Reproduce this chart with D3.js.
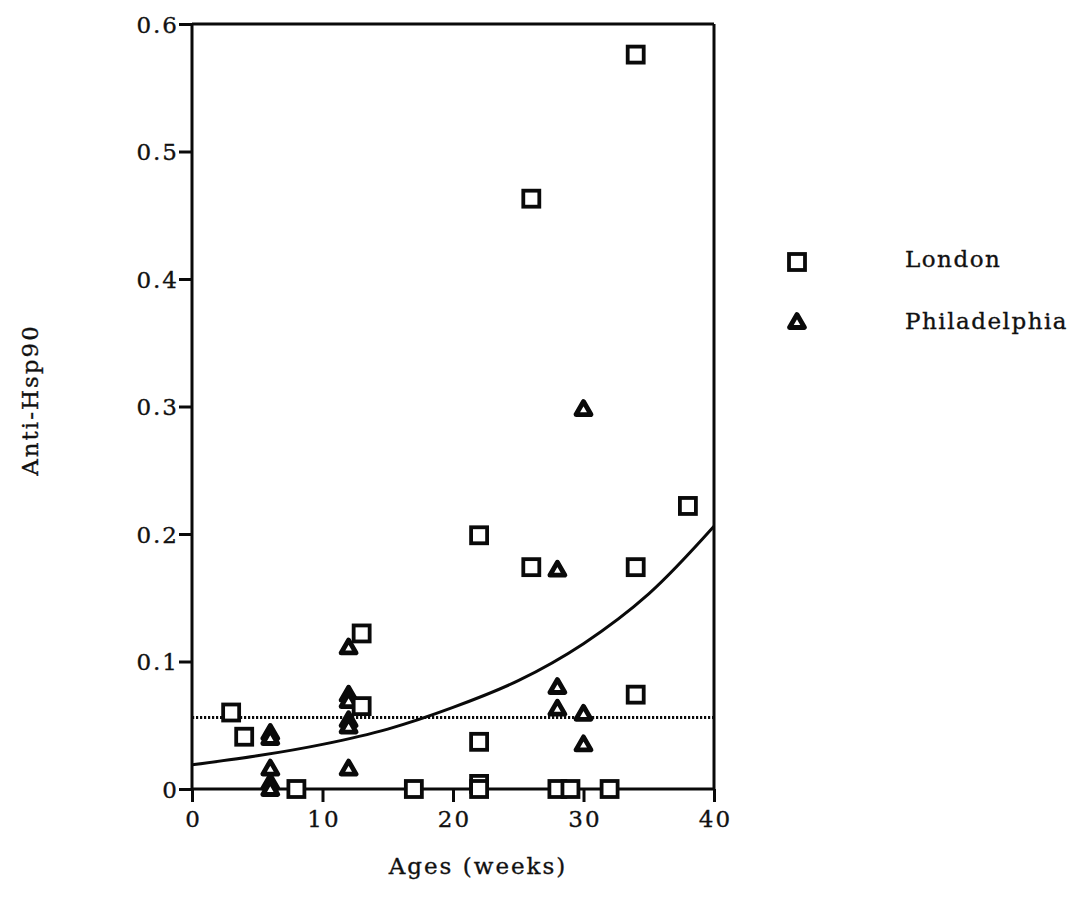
<!DOCTYPE html>
<html>
<head>
<meta charset="utf-8">
<script src="https://cdn.jsdelivr.net/npm/d3@7/dist/d3.min.js"></script>
<style>
  body { margin: 0; background: #fff; }
  svg { display: block; }
  text { font-family: "DejaVu Serif", "Liberation Serif", serif; fill: #111; stroke: #111; stroke-width: 0.35px; }
</style>
</head>
<body>
<svg id="chart" width="1075" height="911"></svg>
<script>
// Anti-Hsp90 titres by age, two colonies
const londonAge = [3, 4, 8, 13, 13, 17, 22, 22, 22, 22, 26, 26, 28, 29, 32, 34, 34, 34, 38];
const londonVal = [0.060, 0.041, 0, 0.122, 0.065, 0, 0.199, 0.037, 0.004, 0, 0.463, 0.174, 0, 0, 0, 0.576, 0.174, 0.074, 0.222];

const phillyAge = [6, 6, 6, 6, 6, 12, 12, 12, 12, 12, 12, 28, 28, 28, 30, 30, 30];
const phillyVal = [0.044, 0.040, 0.016, 0.005, 0, 0.111, 0.074, 0.069, 0.054, 0.049, 0.016, 0.172, 0.080, 0.063, 0.298, 0.059, 0.035];

// fitted trend curve and cut-off level
const fitAge = [0, 5, 10, 15, 20, 25, 30, 35, 40];
const fitVal = [0.019, 0.026, 0.035, 0.047, 0.064, 0.085, 0.114, 0.153, 0.206];
const cutoff = 0.056;

const xTicks = [0, 10, 20, 30, 40];
const yTicks = [0, 0.1, 0.2, 0.3, 0.4, 0.5, 0.6];
const yTickLabels = ["0", "0.1", "0.2", "0.3", "0.4", "0.5", "0.6"];
const seriesNames = ["London", "Philadelphia"];

const svg = d3.select("#chart");
const x = d3.scaleLinear().domain([0, 40]).range([192, 714]);
const y = d3.scaleLinear().domain([0, 0.6]).range([789, 24]);

const ink = "#0a0a0a";

// frame: top and right edges
svg.append("line").attr("x1", x(0)).attr("x2", x(40)).attr("y1", y(0.6)).attr("y2", y(0.6))
  .attr("stroke", ink).attr("stroke-width", 3);
svg.append("line").attr("x1", x(40)).attr("x2", x(40)).attr("y1", y(0.6)).attr("y2", y(0))
  .attr("stroke", ink).attr("stroke-width", 3);

// axes
const xAxis = d3.axisBottom(x).tickValues(xTicks).tickSize(13).tickPadding(9).tickFormat(d3.format("d"));
const yAxis = d3.axisLeft(y).tickValues(yTicks).tickSize(13).tickPadding(0)
  .tickFormat((d, i) => yTickLabels[i]);

const gx = svg.append("g").attr("transform", `translate(0,${y(0)})`).call(xAxis);
const gy = svg.append("g").attr("transform", `translate(${x(0)},0)`).call(yAxis);
[gx, gy].forEach(g => {
  g.select(".domain").attr("stroke", ink).attr("stroke-width", 3);
  g.selectAll(".tick line").attr("stroke", ink).attr("stroke-width", 3);
  g.selectAll(".tick text").style("font-family", '"DejaVu Serif", serif')
    .style("font-size", "23px").style("letter-spacing", "2px").attr("fill", ink);
});
gx.selectAll(".tick text").attr("dx", 1);
gy.selectAll(".tick text").attr("dy", "0.36em");
gx.select(".domain").attr("d", `M${x(0)},0H${x(40)}`);
gy.select(".domain").attr("d", `M0,${y(0.6)}V${y(0)}`);

// cut-off line
svg.append("line").attr("x1", x(0)).attr("x2", x(40)).attr("y1", y(cutoff)).attr("y2", y(cutoff))
  .attr("stroke", ink).attr("stroke-width", 3).attr("stroke-dasharray", "2.2,1.8");

// trend curve
const fit = fitAge.map((a, i) => [a, fitVal[i]]);
svg.append("path").datum(fit)
  .attr("d", d3.line().x(d => x(d[0])).y(d => y(d[1])).curve(d3.curveCatmullRom))
  .attr("fill", "none").attr("stroke", ink).attr("stroke-width", 3);

// marker shapes
const triPath = "M0,-7.5L7.5,5.5L-7.5,5.5Z";
function square(g, cx, cy) {
  g.append("rect").attr("x", cx - 8).attr("y", cy - 8).attr("width", 16).attr("height", 16)
    .attr("fill", "#fff").attr("stroke", ink).attr("stroke-width", 3.8);
}
function triangle(g, cx, cy) {
  g.append("path").attr("d", triPath).attr("transform", `translate(${cx},${cy})`)
    .attr("fill", "#fff").attr("stroke", ink).attr("stroke-width", 4.8).attr("stroke-linejoin", "round");
}

const pts = svg.append("g");
phillyAge.forEach((a, i) => triangle(pts, x(a), y(phillyVal[i])));
londonAge.forEach((a, i) => square(pts, x(a), y(londonVal[i])));

// legend
const leg = svg.append("g");
square(leg, 797, 262);
triangle(leg, 797, 322);
leg.append("text").attr("x", 905).attr("y", 267).style("font-size", "23px").style("letter-spacing", "1.5px").text(seriesNames[0]);
leg.append("text").attr("x", 905).attr("y", 329).style("font-size", "23px").style("letter-spacing", "1.5px").text(seriesNames[1]);

// axis titles
svg.append("text").attr("x", 478).attr("y", 874).attr("text-anchor", "middle")
  .style("font-size", "23px").style("letter-spacing", "2px").text("Ages (weeks)");
svg.append("text").attr("transform", "translate(38,400) rotate(-90)").attr("text-anchor", "middle")
  .style("font-size", "23px").style("letter-spacing", "2px").text("Anti-Hsp90");
</script>
</body>
</html>
